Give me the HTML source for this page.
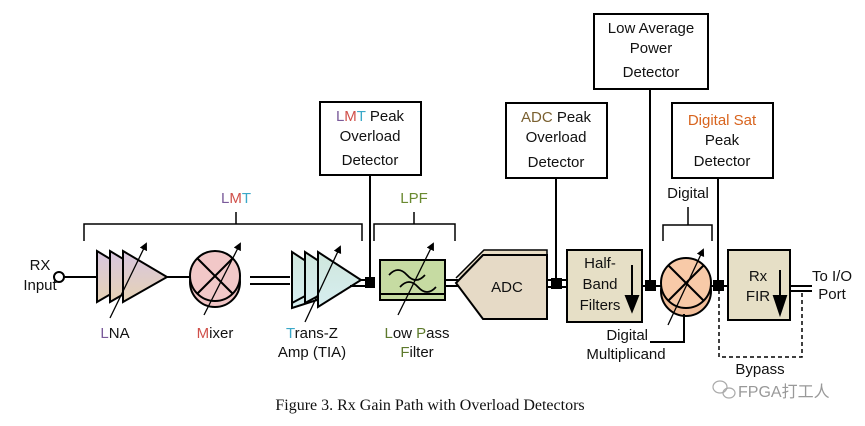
<!DOCTYPE html>
<html><head><meta charset="utf-8"><style>
html,body{margin:0;padding:0;background:#fff;}
svg{display:block;}
text{font-family:"Liberation Sans",sans-serif;font-size:15px;}
</style></head><body>
<svg width="865" height="426" viewBox="0 0 865 426" xmlns="http://www.w3.org/2000/svg">
<defs>
<marker id="ah" markerWidth="8" markerHeight="8" refX="6" refY="4" orient="auto" markerUnits="userSpaceOnUse"><path d="M0,0 L8,4 L0,8 Z" fill="#000"/></marker>
<linearGradient id="lna" x1="0" y1="0" x2="0" y2="1"><stop offset="0" stop-color="#d8c6e0"/><stop offset="1" stop-color="#e6d2b4"/></linearGradient>
<linearGradient id="tia" x1="0" y1="0" x2="0" y2="1"><stop offset="0" stop-color="#cfe6dc"/><stop offset="1" stop-color="#d6eef0"/></linearGradient>
</defs>
<g stroke="#000" stroke-width="2" fill="none">
<rect x="320" y="102" width="101" height="73" fill="#fff"/>
<rect x="506" y="103" width="101" height="75" fill="#fff"/>
<rect x="594" y="14" width="114" height="75" fill="#fff"/>
<rect x="672" y="103" width="101" height="75" fill="#fff"/>
<line x1="370" y1="175" x2="370" y2="283"/>
<line x1="556" y1="178" x2="556" y2="289"/>
<line x1="650" y1="89" x2="650" y2="289"/>
<line x1="718" y1="178" x2="718" y2="289"/>
<path d="M84,241 V224 H362 V241 M236,224 V212" stroke-width="1.5"/>
<path d="M374,241 V224 H455 V241 M414,224 V212" stroke-width="1.5"/>
<path d="M663,241 V225 H712 V241 M688,225 V207" stroke-width="1.5"/>
<circle cx="59" cy="277" r="5" fill="#fff"/>
<line x1="64" y1="277" x2="97" y2="277"/>
<path d="M97,251 L97,302 L140,277 Z" fill="url(#lna)"/>
<path d="M110,251 L110,302 L153,277 Z" fill="url(#lna)"/>
<path d="M123,251 L123,302 L167,277 Z" fill="url(#lna)"/>
<line x1="110" y1="318" x2="146" y2="244" stroke-width="1.3" marker-end="url(#ah)"/>
<line x1="167" y1="277" x2="190" y2="277"/>
<ellipse cx="215" cy="282" rx="25" ry="25" fill="#f0c4c4"/>
<circle cx="215" cy="276" r="25" fill="#f2c8c8"/>
<line x1="197" y1="258" x2="233" y2="294"/><line x1="233" y1="258" x2="197" y2="294"/>
<line x1="204" y1="315" x2="240" y2="244" stroke-width="1.3" marker-end="url(#ah)"/>
<line x1="250" y1="277" x2="290" y2="277"/><line x1="250" y1="284" x2="290" y2="284"/>
<path d="M292,258 L292,308 L342,292" fill="url(#tia)"/>
<path d="M292,252 L292,303 L335,280 Z" fill="url(#tia)"/>
<path d="M305,252 L305,303 L348,280 Z" fill="url(#tia)"/>
<path d="M318,252 L318,307 L361,280 Z" fill="url(#tia)"/>
<line x1="305" y1="322" x2="340" y2="247" stroke-width="1.3" marker-end="url(#ah)"/>
<line x1="361" y1="280" x2="375" y2="280"/><line x1="350" y1="286" x2="375" y2="286"/>
<rect x="366" y="278" width="8" height="9" fill="#000"/>
<rect x="380" y="260" width="65" height="40" fill="#c6dba2"/>
<line x1="380" y1="294" x2="445" y2="294"/>
<path d="M389,275 q9,-10 18,0 t18,0" stroke-width="1.7"/>
<path d="M400,287 q9,-10 18,0 t18,0" stroke-width="1.7"/>
<line x1="398" y1="315" x2="433" y2="244" stroke-width="1.3" marker-end="url(#ah)"/>
<line x1="445" y1="280" x2="458" y2="280"/><line x1="445" y1="286" x2="458" y2="286"/>
<path d="M456,278 L484,250 L547,250 L547,255" fill="#e8dcc4" stroke-width="1.5"/>
<path d="M456,283 L483,255 L547,255 L547,319 L483,319 Z" fill="#e6dac6"/>
<line x1="547" y1="280" x2="567" y2="280"/><line x1="547" y1="287" x2="567" y2="287"/>
<rect x="552" y="279" width="9" height="9" fill="#000"/>
<rect x="567" y="250" width="75" height="72" fill="#e6dfc6"/>
<line x1="632" y1="265" x2="632" y2="300"/>
<path d="M626,296 L638,296 L632,311 Z" fill="#000"/>
<line x1="642" y1="286" x2="662" y2="286"/>
<rect x="646" y="281" width="9" height="9" fill="#000"/>
<circle cx="686" cy="291" r="25" fill="#f2be9a"/>
<circle cx="686" cy="283" r="25" fill="#f8caa8"/>
<line x1="668" y1="265" x2="704" y2="301"/><line x1="704" y1="265" x2="668" y2="301"/>
<line x1="668" y1="325" x2="703" y2="250" stroke-width="1.3" marker-end="url(#ah)"/>
<path d="M684,314 V342 H650"/>
<line x1="711" y1="286" x2="728" y2="286"/>
<rect x="714" y="281" width="9" height="9" fill="#000"/>
<rect x="728" y="250" width="62" height="70" fill="#e6dfc6"/>
<line x1="780" y1="270" x2="780" y2="300"/>
<path d="M774,296 L786,296 L780,314 Z" fill="#000"/>
<line x1="790" y1="286" x2="812" y2="286"/><line x1="790" y1="291" x2="812" y2="291"/>
<path d="M719,290 V357 H802 V291" stroke-width="1.5" stroke-dasharray="4,3"/>
</g>
<g fill="#111">
<text x="40" y="270" text-anchor="middle">RX</text>
<text x="40" y="290" text-anchor="middle">Input</text>
<text x="236" y="203" text-anchor="middle"><tspan fill="#7a5a9a">L</tspan><tspan fill="#d0504a">M</tspan><tspan fill="#3aa8c8">T</tspan></text>
<text x="414" y="203" text-anchor="middle" style="fill:#6a8a30">LPF</text>
<text x="688" y="198" text-anchor="middle">Digital</text>
<text x="115" y="338" text-anchor="middle"><tspan fill="#7a5a9a">L</tspan>NA</text>
<text x="215" y="338" text-anchor="middle"><tspan fill="#d0504a">M</tspan>ixer</text>
<text x="312" y="338" text-anchor="middle"><tspan fill="#3aa8c8">T</tspan>rans-Z</text>
<text x="312" y="357" text-anchor="middle">Amp (TIA)</text>
<text x="417" y="338" text-anchor="middle"><tspan fill="#5e7a2c">L</tspan>ow <tspan fill="#5e7a2c">P</tspan>ass</text>
<text x="417" y="357" text-anchor="middle"><tspan fill="#5e7a2c">F</tspan>ilter</text>
<text x="507" y="292" text-anchor="middle">ADC</text>
<text x="600" y="268" text-anchor="middle">Half-</text>
<text x="600" y="289" text-anchor="middle">Band</text>
<text x="600" y="310" text-anchor="middle">Filters</text>
<text x="648" y="340" text-anchor="end">Digital</text>
<text x="626" y="359" text-anchor="middle">Multiplicand</text>
<text x="758" y="281" text-anchor="middle">Rx</text>
<text x="758" y="301" text-anchor="middle">FIR</text>
<text x="832" y="281" text-anchor="middle">To I/O</text>
<text x="832" y="299" text-anchor="middle">Port</text>
<text x="760" y="374" text-anchor="middle">Bypass</text>
<text x="370" y="121" text-anchor="middle"><tspan fill="#7a5a9a">L</tspan><tspan fill="#d0504a">M</tspan><tspan fill="#3aa8c8">T</tspan> Peak</text>
<text x="370" y="141" text-anchor="middle">Overload</text>
<text x="370" y="165" text-anchor="middle">Detector</text>
<text x="556" y="122" text-anchor="middle"><tspan fill="#7a6030">ADC</tspan> Peak</text>
<text x="556" y="142" text-anchor="middle">Overload</text>
<text x="556" y="167" text-anchor="middle">Detector</text>
<text x="651" y="33" text-anchor="middle">Low Average</text>
<text x="651" y="53" text-anchor="middle">Power</text>
<text x="651" y="77" text-anchor="middle">Detector</text>
<text x="722" y="125" text-anchor="middle" style="fill:#d8641e">Digital Sat</text>
<text x="722" y="145" text-anchor="middle">Peak</text>
<text x="722" y="166" text-anchor="middle">Detector</text>
<text x="430" y="410" text-anchor="middle" style="font-family:'Liberation Serif',serif;font-size:16px">Figure 3. Rx Gain Path with Overload Detectors</text>
</g>
<g fill="none" stroke="#aaa" stroke-width="1.2"><ellipse cx="720" cy="387" rx="7" ry="6"/><ellipse cx="729" cy="393" rx="6" ry="5"/></g>
<text x="738" y="397" style="font-family:'Liberation Sans','Noto Sans CJK SC',sans-serif;font-size:16px;fill:#999">FPGA打工人</text>
</svg>
</body></html>
